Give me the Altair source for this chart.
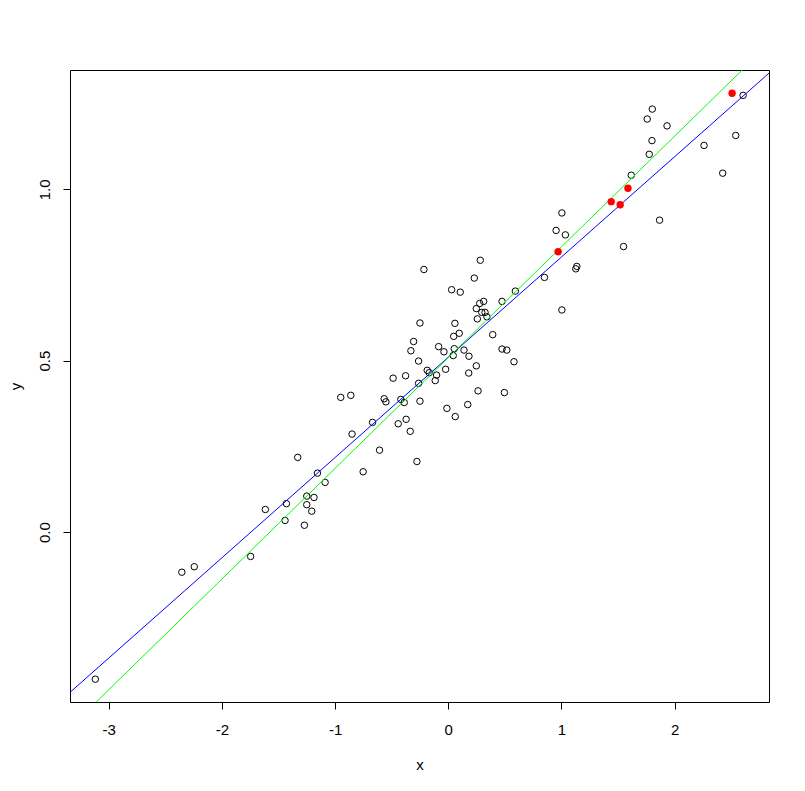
import altair as alt
import pandas as pd

# ---- data ----
black_x = [-3.118, -2.354, -2.244, -1.746, -1.616, -1.430, -1.442,
           -0.262, -0.186, -0.168, -0.103, -0.115, -0.487, -0.377, -0.950, -0.861,
           -0.566, -0.551, -0.419, -0.389, -0.262, -0.250, -0.669, -0.442, -0.372,
           -0.336, -0.850, -0.607, -0.277, -1.330, -0.752, -1.156, -1.088, -1.250,
           -1.186, -1.250, -1.206, -1.271,
           0.283, -0.215, 0.230, 0.030, 0.106, 0.313, 0.278, 0.248, 0.296, 0.325,
           0.257, 0.342, 0.475, 0.593, -0.250, 0.059, 0.048, 0.097, 0.393, -0.306,
           -0.330, -0.085, -0.038, 0.053, 0.044, 0.139, 0.183, 0.475, 0.517, 0.581,
           -0.023, 0.248, 0.181, 0.263, 0.496, -0.012, 0.172, 0.062,
           1.004, 0.953, 1.035, 1.867, 1.549, 1.136, 1.127, 0.850, 1.004,
           2.605, 1.803, 1.758, 1.933, 1.800, 1.776, 2.540, 2.260, 2.425, 1.617]
black_y = [-0.429, -0.117, -0.101, -0.071, 0.066, 0.083, 0.034,
           0.499, 0.472, 0.465, 0.458, 0.442, 0.449, 0.456, 0.393, 0.399,
           0.389, 0.380, 0.387, 0.378, 0.434, 0.382, 0.320, 0.316, 0.329,
           0.294, 0.286, 0.239, 0.206, 0.218, 0.176, 0.172, 0.145, 0.105,
           0.101, 0.080, 0.061, 0.020,
           0.793, 0.766, 0.741, 0.707, 0.700, 0.673, 0.667, 0.652, 0.641, 0.641,
           0.622, 0.628, 0.673, 0.703, 0.610, 0.609, 0.571, 0.580, 0.576, 0.556,
           0.529, 0.541, 0.526, 0.535, 0.515, 0.531, 0.513, 0.534, 0.531, 0.497,
           0.475, 0.485, 0.464, 0.412, 0.407, 0.361, 0.372, 0.337,
           0.931, 0.880, 0.867, 0.910, 0.833, 0.775, 0.768, 0.743, 0.648,
           1.274, 1.234, 1.205, 1.185, 1.142, 1.102, 1.157, 1.128, 1.047, 1.041]

red_x = [0.971, 1.440, 1.519, 1.588, 2.508]
red_y = [0.818, 0.964, 0.955, 1.003, 1.280]

line_names = ["blue fit", "green fit"]
line_intercepts = [0.510, 0.509]
line_slopes = [0.2925, 0.323]
line_colors = ["#0000FF", "#00FF00"]
line_x_ends = [-4.0, 3.5]

x_ticks = [-3, -2, -1, 0, 1, 2]
y_ticks = [0.0, 0.5, 1.0]
x_domain = [-3.342, 2.834]
y_domain = [-0.4956, 1.348]

FONT = "Liberation Sans"
FS = 15

black = pd.DataFrame({"x": black_x, "y": black_y})
red = pd.DataFrame({"x": red_x, "y": red_y})
rows = []
for name, a, b in zip(line_names, line_intercepts, line_slopes):
    for xe in line_x_ends:
        rows.append({"fit": name, "x": xe, "y": a + b * xe})
lines = pd.DataFrame(rows)

xscale = alt.Scale(domain=x_domain, nice=False, zero=False)
yscale = alt.Scale(domain=y_domain, nice=False, zero=False)

xaxis = alt.Axis(values=x_ticks, title="x", grid=False, domain=False,
                 tickSize=7, tickColor="black", tickWidth=1,
                 labelColor="black", labelFont=FONT, labelFontSize=FS,
                 labelPadding=13, labelExpr="toString(datum.value)",
                 titleFont=FONT, titleFontSize=FS, titleFontWeight="normal",
                 titleColor="black", titleY=62, titleBaseline="middle")
yaxis = alt.Axis(values=y_ticks, title="y", grid=False, domain=False,
                 tickSize=7, tickColor="black", tickWidth=1, format=".1f",
                 labelColor="black", labelFont=FONT, labelFontSize=FS,
                 labelAngle=270, labelAlign="center", labelBaseline="alphabetic",
                 labelPadding=14,
                 titleFont=FONT, titleFontSize=FS, titleFontWeight="normal",
                 titleColor="black", titleX=-55, titleBaseline="middle")

X = alt.X("x:Q", scale=xscale, axis=xaxis)
Y = alt.Y("y:Q", scale=yscale, axis=yaxis)

pts = alt.Chart(black).mark_point(shape="circle", filled=False, color="black",
                                  size=42, strokeWidth=1, opacity=1).encode(x=X, y=Y)
fit = alt.Chart(lines).mark_line(clip=True, strokeWidth=1).encode(
    x=X, y=Y,
    color=alt.Color("fit:N", scale=alt.Scale(domain=line_names, range=line_colors),
                    legend=None))
reds = alt.Chart(red).mark_point(shape="circle", filled=True, color="#FF0000",
                                 size=55, opacity=1).encode(x=X, y=Y)

chart = alt.layer(pts, fit, reds).properties(
    width=699, height=632,
    autosize=alt.AutoSizeParams(type="none"),
    padding={"left": 62, "top": 62, "right": 28, "bottom": 75},
    background="white",
).configure_view(stroke="black", strokeWidth=1)

chart.save("out.html", embed_options={"renderer": "svg", "actions": False})
